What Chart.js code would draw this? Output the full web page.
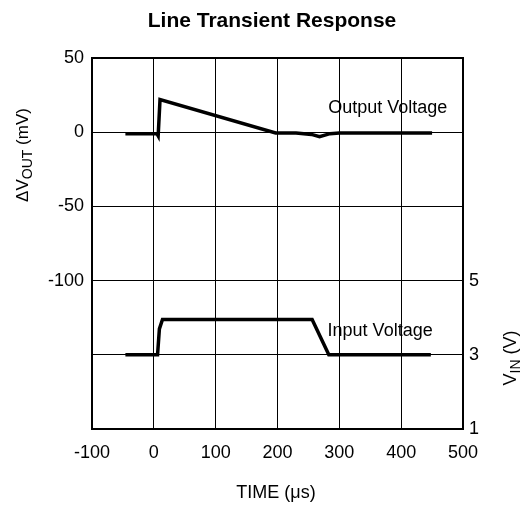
<!DOCTYPE html>
<html>
<head>
<meta charset="utf-8">
<script src="https://cdn.jsdelivr.net/npm/chart.js@4"></script>
<style>
html,body{margin:0;padding:0;background:#fff;}
#wrap{width:527px;height:508px;}
</style>
</head>
<body>
<div id="wrap"><canvas id="lineChart" width="527" height="508"></canvas></div>
<script>
// time in us, output in mV, input in V
const outTime = [-46, 5, 7, 10, 197, 230, 255, 268, 285, 300, 450];
const outMv   = [-1, -1, -2.5, 22, -0.5, -0.5, -1.5, -3, -1, -0.5, -0.5];
const inTime  = [-46, 6, 9, 14, 256, 283, 448];
const inVolt  = [3, 3, 3.7, 3.95, 3.95, 3, 3];
const xTicks  = [-100, 0, 100, 200, 300, 400, 500];
const leftShown  = [50, 0, -50, -100];
const rightShown = [1, 3, 5];

const font = 'Liberation Sans, Arial, sans-serif';

const toPts = (xs, ys) => xs.map((x, i) => ({x: x, y: ys[i]}));

const extras = {
  id: 'extras',
  afterDraw(chart) {
    const c = chart.ctx, a = chart.chartArea;
    const sx = chart.scales.x, sl = chart.scales.y, sr = chart.scales.y2;
    c.save();
    c.strokeStyle = '#000';
    c.lineWidth = 2;
    c.strokeRect(a.left, a.top, a.right - a.left, a.bottom - a.top);

    c.fillStyle = '#000';
    c.font = 'bold 21px ' + font;
    c.textAlign = 'center';
    c.textBaseline = 'middle';
    c.fillText('Line Transient Response', 272, 21);

    c.font = '18px ' + font;
    c.fillText('TIME (\u03bcs)', 276, 493);

    c.textAlign = 'left';
    c.fillText('Output Voltage', sx.getPixelForValue(282), sl.getPixelForValue(16));
    c.fillText('Input Voltage', sx.getPixelForValue(281), sr.getPixelForValue(3.65));

    // rotated axis titles with subscripts
    const vTitle = (x, y, size, main, sub, tail) => {
      c.save();
      c.translate(x, y);
      c.rotate(-Math.PI / 2);
      c.textBaseline = 'alphabetic';
      const subSize = Math.round(size * 0.8);
      c.font = size + 'px ' + font;
      const w1 = c.measureText(main).width;
      const w3 = c.measureText(tail).width;
      c.font = subSize + 'px ' + font;
      const w2 = c.measureText(sub).width;
      let p = -(w1 + w2 + w3) / 2;
      c.textAlign = 'left';
      c.font = size + 'px ' + font;
      c.fillText(main, p, 5);
      p += w1;
      c.font = subSize + 'px ' + font;
      c.fillText(sub, p, 9);
      p += w2;
      c.font = size + 'px ' + font;
      c.fillText(tail, p, 5);
      c.restore();
    };
    vTitle(23, 155, 17, '\u0394V', 'OUT', ' (mV)');
    vTitle(511, 358, 18, 'V', 'IN', ' (V)');
    c.restore();
  }
};

new Chart(document.getElementById('lineChart'), {
  type: 'scatter',
  data: {
    datasets: [
      {
        label: 'Output Voltage',
        data: toPts(outTime, outMv),
        yAxisID: 'y',
        showLine: true,
        borderColor: '#000',
        borderWidth: 3.5,
        pointRadius: 0,
        tension: 0
      },
      {
        label: 'Input Voltage',
        data: toPts(inTime, inVolt),
        yAxisID: 'y2',
        showLine: true,
        borderColor: '#000',
        borderWidth: 3.5,
        pointRadius: 0,
        tension: 0
      }
    ]
  },
  options: {
    responsive: false,
    animation: false,
    layout: {padding: {top: 58, left: 0, right: 0, bottom: 0}},
    plugins: {legend: {display: false}, tooltip: {enabled: false}},
    scales: {
      x: {
        type: 'linear',
        min: -100, max: 500,
        afterBuildTicks: s => { s.ticks = xTicks.map(v => ({value: v})); },
        afterFit: s => { s.height = 79; },
        grid: {color: '#000', lineWidth: 1, drawTicks: false},
        border: {color: '#000', width: 2},
        ticks: {color: '#000', font: {family: font, size: 18}, padding: 13, maxRotation: 0}
      },
      y: {
        position: 'left',
        min: -200, max: 50,
        ticks: {
          stepSize: 50,
          color: '#000',
          font: {family: font, size: 18},
          padding: 8,
          callback: v => leftShown.includes(v) ? v : ''
        },
        afterFit: s => { s.width = 92; },
        grid: {color: '#000', lineWidth: 1, drawTicks: false},
        border: {color: '#000', width: 2}
      },
      y2: {
        position: 'right',
        min: 1, max: 11,
        ticks: {
          stepSize: 2,
          color: '#000',
          font: {family: font, size: 18},
          padding: 6,
          callback: v => rightShown.includes(v) ? v : ''
        },
        afterFit: s => { s.width = 64; },
        grid: {display: false, drawTicks: false},
        border: {color: '#000', width: 2}
      }
    }
  },
  plugins: [extras]
});
</script>
</body>
</html>
